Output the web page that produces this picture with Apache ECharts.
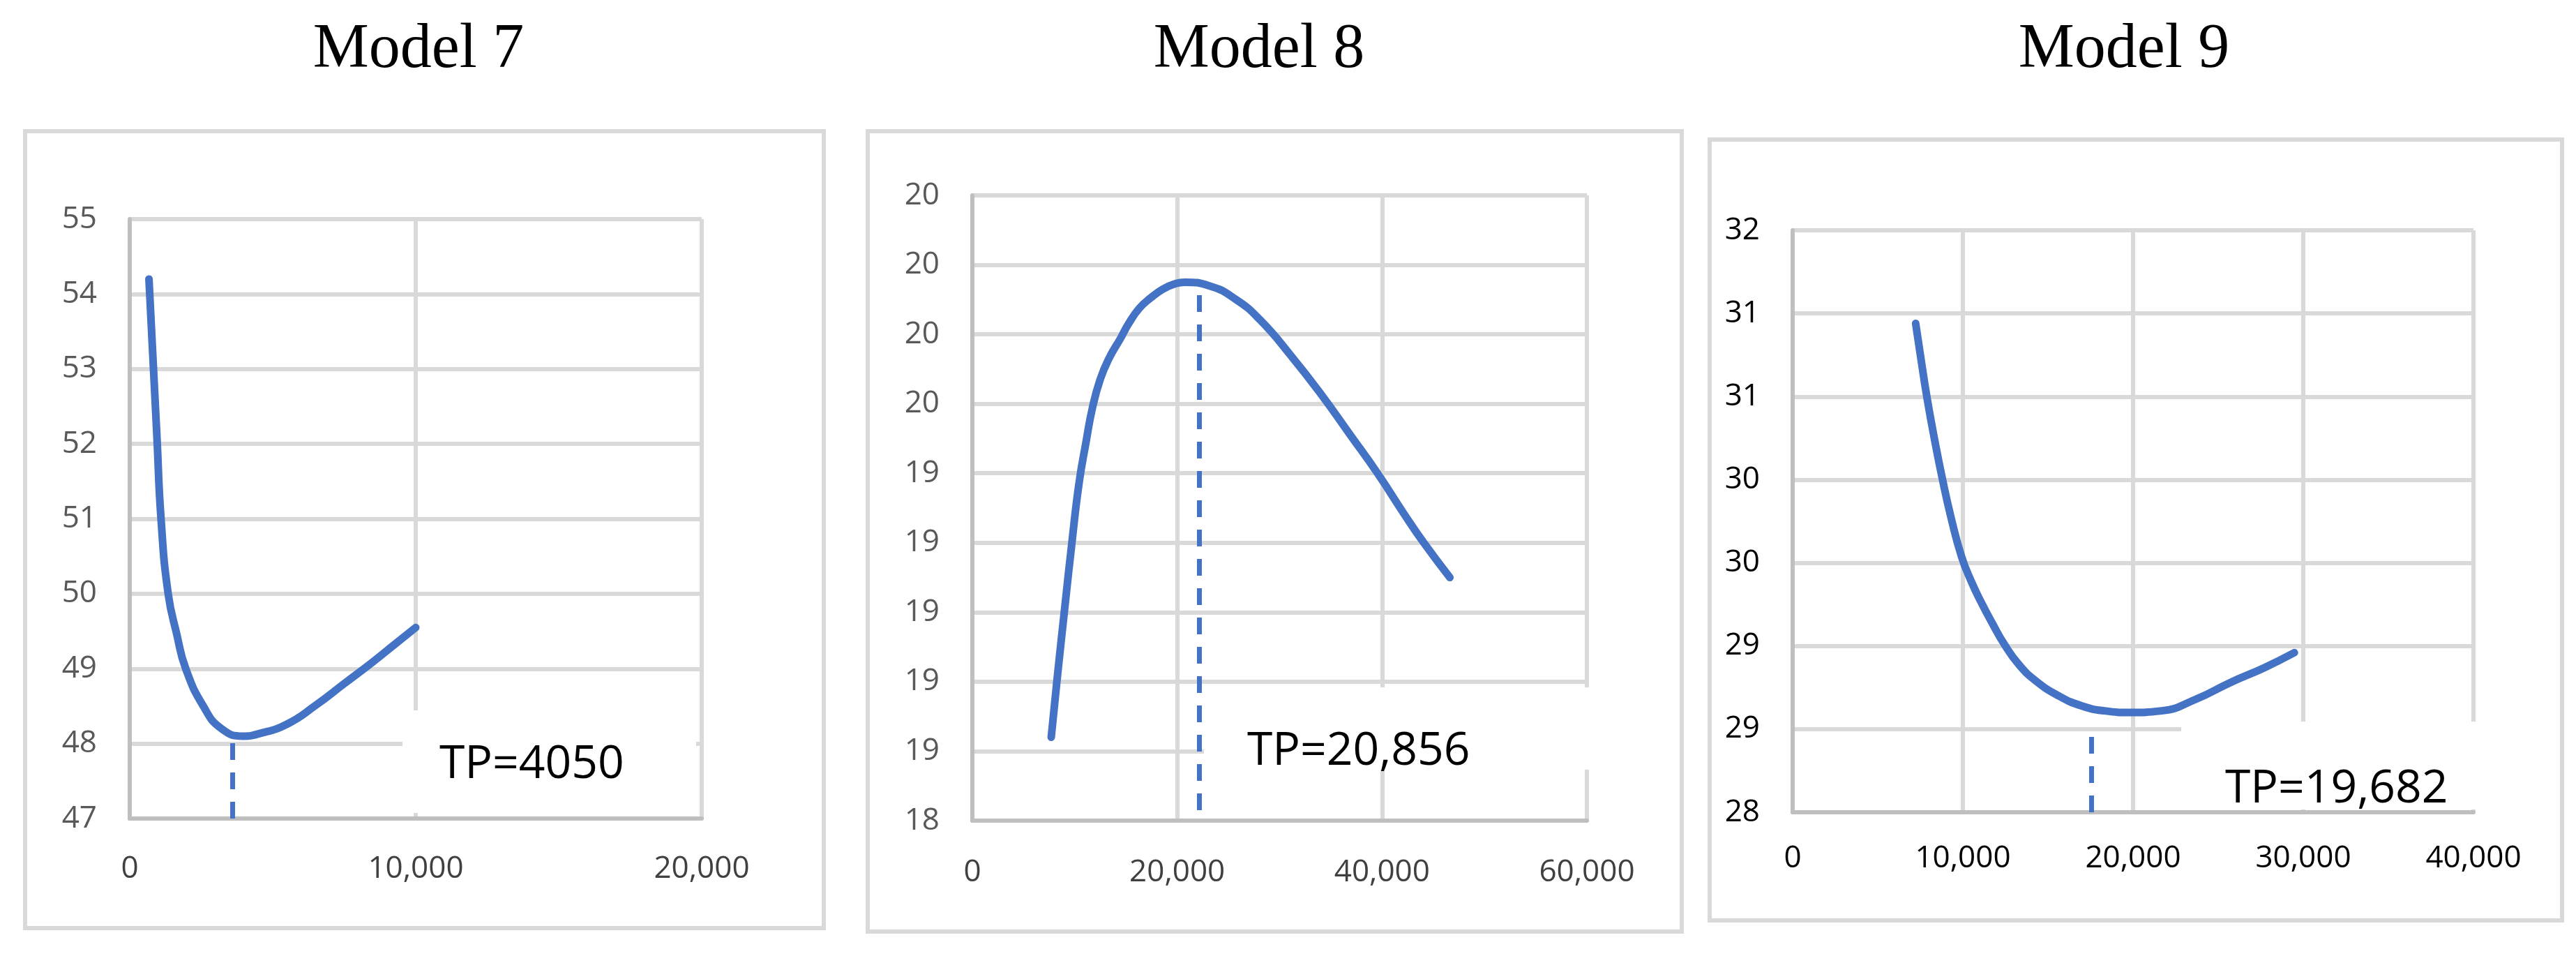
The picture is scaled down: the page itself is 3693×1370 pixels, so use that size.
<!DOCTYPE html>
<html>
<head>
<meta charset="utf-8">
<title>Models 7-9</title>
<script src="https://cdn.jsdelivr.net/npm/echarts@6/dist/echarts.min.js"></script>
<style>
  html, body { margin: 0; padding: 0; background: #fff; }
  #chart { width: 3693px; height: 1370px; }
</style>
</head>
<body>
<div id="chart"></div>
<script>
// 数据
var model7X = [672, 800, 950, 1094, 1344, 1650, 1958, 2572, 3205, 3973, 4500, 5500, 6500, 7500, 8500, 9250, 10000];
var model7Y = [54.2, 53.23, 52.1, 51.0, 50.0, 49.45, 49.0, 48.5, 48.2, 48.1, 48.13, 48.26, 48.51, 48.8, 49.09, 49.32, 49.55];
var model8X = [7700, 8284, 8974, 9717, 10408, 11098, 11735, 12479, 13328, 14496, 15240, 16302, 17417, 18585, 19753, 20709,
    23099, 25754, 28143, 31064, 33984, 36905, 39560, 42216, 44074, 46622];
var model8Y = [18.64, 18.81, 19.0, 19.2, 19.37, 19.49, 19.59, 19.67, 19.73, 19.79, 19.83, 19.875, 19.905, 19.93, 19.945, 19.95,
    19.94, 19.9, 19.84, 19.74, 19.63, 19.51, 19.4, 19.28, 19.2, 19.1];
var model9X = [7226, 7562, 7898, 8302, 8806, 9310, 9915, 10486, 11091, 11764, 12436, 13276, 14284, 15629, 16973, 18317,
    19830, 21678, 23695, 25712, 27728, 29476];
var model9Y = [30.94, 30.71, 30.49, 30.26, 30.0, 29.77, 29.54, 29.39, 29.26, 29.13, 29.01, 28.89, 28.79, 28.7, 28.64, 28.61,
    28.6, 28.61, 28.68, 28.78, 28.87, 28.96];
// 拐点虚线 [x, y起, y止]
var tp7Line = [3590, 47, 48.08];
var tp8Line = [22150, 18.43, 19.95];
var tp9Line = [17550, 28, 28.5];
var titles = ['Model 7', 'Model 8', 'Model 9'];
var tpTexts = ['TP=4050', 'TP=20,856', 'TP=19,682'];
// 坐标轴范围 [min, max, interval]
var xRanges = [[0, 20000, 10000], [0, 60000, 20000], [0, 40000, 10000]];
var yRanges = [[47, 55, 1], [18.4, 20.2, 0.2], [28, 31.5, 0.5]];

var chart = echarts.init(document.getElementById('chart'));

// 布局
var grids = [
    {left: 186, top: 314, width: 820, height: 859},
    {left: 1394, top: 280, width: 881, height: 896},
    {left: 2570, top: 330, width: 976, height: 834}
];
var frames = [[36, 188, 1145, 1142], [1244, 188, 1167, 1147], [2451, 200, 1222, 1119]];
var titleX = [600, 1805, 3045];
var boxes = [[577, 1018, 421, 147], [1726, 985, 564, 118], [3127, 1034, 433, 126]];
var tpPos = [[630, 1096], [1788, 1077], [3190, 1131]];
var yLabelColor = ['#595959', '#595959', '#000'];
var xLabelColor = ['#404040', '#404040', '#000'];
var xMargin = [50, 52, 44];

var BLUE = '#4472c4';
var dataX = [model7X, model8X, model9X];
var dataY = [model7Y, model8Y, model9Y];
var tpLines = [tp7Line, tp8Line, tp9Line];

var xAxes = [], yAxes = [], series = [], graphics = [];
for (var i = 0; i < 3; i++) {
    xAxes.push({
        type: 'value', gridIndex: i,
        min: xRanges[i][0], max: xRanges[i][1], interval: xRanges[i][2],
        axisLine: {show: true, onZero: false, lineStyle: {color: '#bfbfbf', width: 6}},
        axisTick: {show: false},
        splitLine: {show: true, lineStyle: {color: '#d9d9d9', width: 6}},
        axisLabel: {
            margin: xMargin[i], fontSize: 44, fontFamily: 'Open Sans', color: xLabelColor[i],
            formatter: function (v) { return Math.round(v).toLocaleString('en-US'); }
        }
    });
    yAxes.push({
        type: 'value', gridIndex: i,
        min: yRanges[i][0], max: yRanges[i][1], interval: yRanges[i][2],
        axisLine: {show: true, lineStyle: {color: '#bfbfbf', width: 6}},
        axisTick: {show: false},
        splitLine: {show: true, lineStyle: {color: '#d9d9d9', width: 6}},
        axisLabel: {
            margin: 47, fontSize: 44, fontFamily: 'Open Sans', color: yLabelColor[i],
            formatter: function (v) { return String(Math.round(v)); }
        }
    });
    var pts = dataX[i].map(function (x, k) { return [x, dataY[i][k]]; });
    var tp = tpLines[i];
    series.push({
        type: 'line', xAxisIndex: i, yAxisIndex: i,
        data: pts, smooth: 0.5, showSymbol: false, symbol: 'none',
        lineStyle: {color: BLUE, width: 11, cap: 'round', join: 'round'},
        z: 3,
        markLine: {
            silent: true, symbol: 'none', label: {show: false},
            lineStyle: {color: BLUE, width: 7, type: [24, 18], cap: 'butt'},
            data: [[{coord: [tp[0], tp[1]]}, {coord: [tp[0], tp[2]]}]]
        }
    });
    var f = frames[i];
    graphics.push({
        type: 'rect', z: 1,
        shape: {x: f[0], y: f[1], width: f[2], height: f[3]},
        style: {fill: null, stroke: '#d9d9d9', lineWidth: 6}
    });
    graphics.push({
        type: 'text', z: 1, x: titleX[i], y: 27,
        style: {text: titles[i], font: '90px "Liberation Serif"', fill: '#000', textAlign: 'center', textVerticalAlign: 'top'}
    });
    var b = boxes[i];
    graphics.push({
        type: 'rect', z: 1,
        shape: {x: b[0], y: b[1], width: b[2], height: b[3]},
        style: {fill: '#fff', stroke: null}
    });
    graphics.push({
        type: 'text', z: 4, x: tpPos[i][0], y: tpPos[i][1],
        style: {text: tpTexts[i], font: '66px "Open Sans"', fill: '#000', textAlign: 'left', textVerticalAlign: 'middle'}
    });
}

chart.setOption({
    animation: false,
    grid: grids.map(function (g) {
        return {left: g.left, top: g.top, width: g.width, height: g.height, containLabel: false, outerBoundsMode: 'none'};
    }),
    xAxis: xAxes,
    yAxis: yAxes,
    series: series,
    graphic: graphics
});
</script>
</body>
</html>
